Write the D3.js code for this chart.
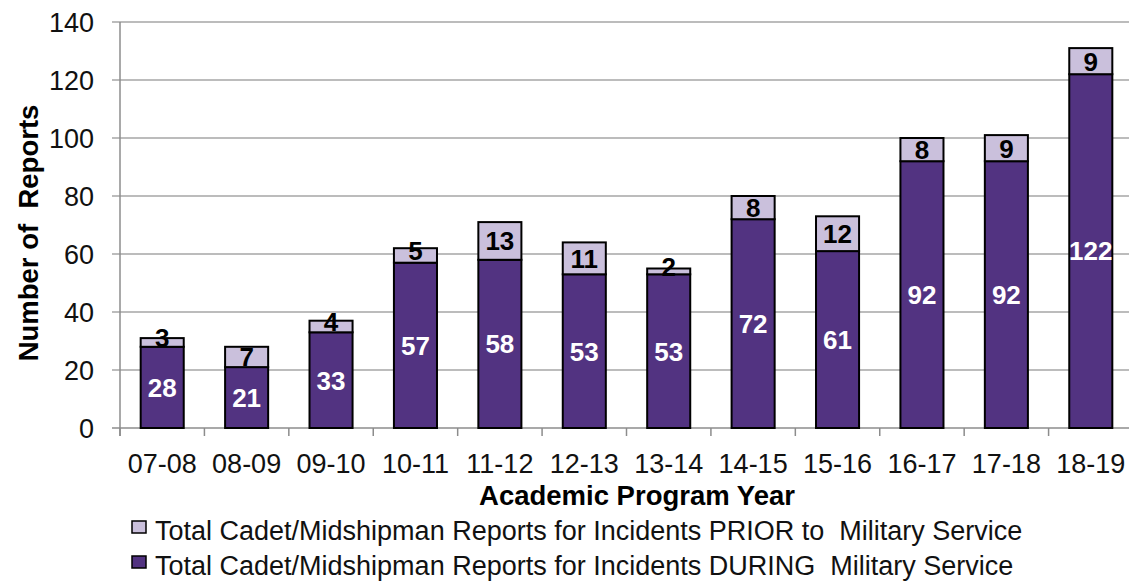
<!DOCTYPE html>
<html>
<head>
<meta charset="utf-8">
<script src="https://cdn.jsdelivr.net/npm/d3@7"></script>
<style>
  body { margin: 0; background: #fff; }
  svg { font-family: "Liberation Sans", Arial, sans-serif; }
  text { white-space: pre; }
</style>
</head>
<body>
<div id="chart"></div>
<script>
// academic program years
var years = ["07-08", "08-09", "09-10", "10-11", "11-12", "12-13", "13-14", "14-15", "15-16", "16-17", "17-18", "18-19"];
// reports for incidents during military service (bottom segment)
var during = [28, 21, 33, 57, 58, 53, 53, 72, 61, 92, 92, 122];
// reports for incidents prior to military service (top segment)
var prior = [3, 7, 4, 5, 13, 11, 2, 8, 12, 8, 9, 9];
var yTicks = [0, 20, 40, 60, 80, 100, 120, 140];
var seriesNames = [
  "Total Cadet/Midshipman Reports for Incidents PRIOR to  Military Service",
  "Total Cadet/Midshipman Reports for Incidents DURING  Military Service"
];

var width = 1129, height = 582;
var margin = {left: 120, top: 22, right: -4, bottom: 154};
var colDuring = "#523381", colPrior = "#cac0dc";

var svg = d3.select("#chart").append("svg")
  .attr("width", width)
  .attr("height", height);

var x = d3.scaleBand()
  .domain(years)
  .range([margin.left, width - margin.right])
  .paddingInner(0.49)
  .paddingOuter(0.245);

var y = d3.scaleLinear()
  .domain([0, 140])
  .range([height - margin.bottom, margin.top]);

// gridlines
svg.append("g")
  .selectAll("line")
  .data(yTicks)
  .enter().append("line")
    .attr("x1", margin.left - 8)
    .attr("x2", width - margin.right)
    .attr("y1", function(d) { return y(d); })
    .attr("y2", function(d) { return y(d); })
    .attr("stroke", function(d) { return d === 0 ? "#8c8c8c" : "#a6a6a6"; })
    .attr("stroke-width", 1.5);

// y axis line
svg.append("line")
  .attr("x1", margin.left).attr("x2", margin.left)
  .attr("y1", y(140)).attr("y2", y(0) + 8)
  .attr("stroke", "#8c8c8c").attr("stroke-width", 1.5);

// y tick labels
svg.append("g")
  .selectAll("text")
  .data(yTicks)
  .enter().append("text")
    .attr("x", margin.left - 26)
    .attr("y", function(d) { return y(d); })
    .attr("dy", "0.36em")
    .attr("text-anchor", "end")
    .attr("font-size", 27)
    .attr("fill", "#111")
    .text(function(d) { return d; });

// x tick marks at band edges
var step = x.step();
svg.append("g")
  .selectAll("line")
  .data(d3.range(years.length + 1))
  .enter().append("line")
    .attr("x1", function(i) { return margin.left + i * step; })
    .attr("x2", function(i) { return margin.left + i * step; })
    .attr("y1", y(0))
    .attr("y2", y(0) + 8)
    .attr("stroke", "#8c8c8c")
    .attr("stroke-width", 1.5);

// x tick labels
svg.append("g")
  .selectAll("text")
  .data(years)
  .enter().append("text")
    .attr("x", function(d) { return x(d) + x.bandwidth() / 2; })
    .attr("y", y(0) + 45)
    .attr("text-anchor", "middle")
    .attr("font-size", 27)
    .attr("fill", "#111")
    .text(function(d) { return d; });

// stacked bars
var rows = years.map(function(yr, i) { return {year: yr, during: during[i], prior: prior[i]}; });
var stack = d3.stack().keys(["during", "prior"])(rows);
var colors = {during: colDuring, prior: colPrior};

var layers = svg.append("g").selectAll("g")
  .data(stack)
  .enter().append("g")
    .attr("fill", function(s) { return colors[s.key]; });

layers.selectAll("rect")
  .data(function(s) { return s; })
  .enter().append("rect")
    .attr("x", function(d) { return x(d.data.year); })
    .attr("width", x.bandwidth())
    .attr("y", function(d) { return y(d[1]); })
    .attr("height", function(d) { return y(d[0]) - y(d[1]); })
    .attr("stroke", "#000")
    .attr("stroke-width", 2);

// value labels
stack.forEach(function(s) {
  svg.append("g").selectAll("text")
    .data(s)
    .enter().append("text")
      .attr("x", function(d) { return x(d.data.year) + x.bandwidth() / 2; })
      .attr("y", function(d) {
        var mid = y((d[0] + d[1]) / 2);
        // small segments: label sits a bit higher
        return (d[1] - d[0]) <= 5 ? mid - 5 : mid;
      })
      .attr("dy", "0.36em")
      .attr("text-anchor", "middle")
      .attr("font-size", 26)
      .attr("font-weight", "bold")
      .attr("fill", s.key === "during" ? "#fff" : "#000")
      .text(function(d) { return d[1] - d[0]; });
});

// axis titles
svg.append("text")
  .attr("transform", "translate(38," + ((y(0) + y(140)) / 2 + 8) + ") rotate(-90)")
  .attr("text-anchor", "middle")
  .attr("font-size", 27.5)
  .attr("font-weight", "bold")
  .attr("fill", "#000")
  .text("Number of  Reports");

svg.append("text")
  .attr("x", 637)
  .attr("y", 505)
  .attr("text-anchor", "middle")
  .attr("font-size", 27.5)
  .attr("font-weight", "bold")
  .attr("fill", "#000")
  .text("Academic Program Year");

// legend
var legend = svg.append("g").selectAll("g")
  .data([{name: seriesNames[0], color: colPrior}, {name: seriesNames[1], color: colDuring}])
  .enter().append("g")
    .attr("transform", function(d, i) { return "translate(132," + (521 + i * 35) + ")"; });

legend.append("rect")
  .attr("width", 14).attr("height", 12)
  .attr("fill", function(d) { return d.color; })
  .attr("stroke", "#000").attr("stroke-width", 1.5);

legend.append("text")
  .attr("x", 23)
  .attr("y", 19)
  .attr("font-size", 27)
  .attr("fill", "#111")
  .text(function(d) { return d.name; });
</script>
</body>
</html>
